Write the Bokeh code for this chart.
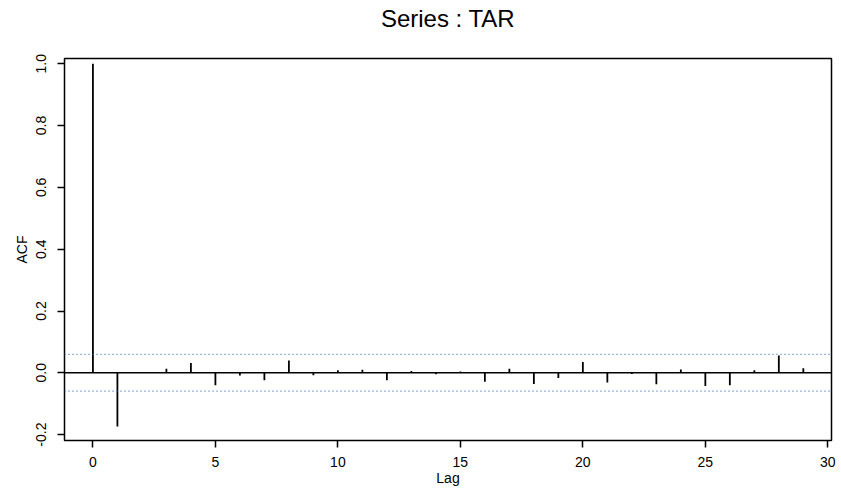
from bokeh.plotting import figure
from bokeh.models import Range1d, FixedTicker, Span, Title
from bokeh.embed import file_html
from bokeh.resources import INLINE

# ---- data ----
lags = list(range(30))
acf = [1.0, -0.174, 0.002, 0.013, 0.032, -0.040, -0.009, -0.024, 0.040, -0.008,
       0.008, 0.010, -0.024, 0.006, -0.005, 0.004, -0.029, 0.013, -0.036, -0.017,
       0.035, -0.031, -0.004, -0.037, 0.011, -0.043, -0.040, 0.008, 0.056, 0.015]
conf_limit = 0.0595
x_ticks = [0, 5, 10, 15, 20, 25, 30]
x_tick_labels = ["0", "5", "10", "15", "20", "25", "30"]
y_ticks = [-0.2, 0.0, 0.2, 0.4, 0.6, 0.8, 1.0]
y_tick_labels = ["-0.2", "0.0", "0.2", "0.4", "0.6", "0.8", "1.0"]
title_text = "Series : TAR"
x_label = "Lag"
y_label = "ACF"

FONT = "Liberation Sans"
X_MIN, X_MAX = -1.16, 30.15
Y_MIN, Y_MAX = -0.219, 1.017

p = figure(width=841, height=494, output_backend="svg", toolbar_location=None,
           x_range=Range1d(X_MIN, X_MAX), y_range=Range1d(Y_MIN, Y_MAX),
           min_border_left=64, min_border_right=10,
           min_border_top=58, min_border_bottom=54)
p.title_location = None

p.background_fill_color = "white"
p.border_fill_color = "white"
p.xgrid.visible = False
p.ygrid.visible = False
p.outline_line_color = "black"
p.outline_line_width = 1.5
p.outline_line_alpha = 1.0

# bars
zeros = [0.0 for _ in lags]
p.segment(x0=lags, y0=zeros, x1=lags, y1=acf, line_color="black", line_width=1.8)

# zero line and confidence bounds
p.add_layout(Span(location=0, dimension="width", line_color="black", line_width=1.5))
for loc in (conf_limit, -conf_limit):
    p.add_layout(Span(location=loc, dimension="width", line_color="#3d6db0",
                      line_width=1.2, line_dash="1 3"))

# axes
xa = p.xaxis[0]
ya = p.yaxis[0]
xa.ticker = FixedTicker(ticks=x_ticks)
ya.ticker = FixedTicker(ticks=y_ticks)
xa.major_label_overrides = {t: l for t, l in zip(x_ticks, x_tick_labels)}
ya.major_label_overrides = {t: l for t, l in zip(y_ticks, y_tick_labels)}
xa.axis_label = x_label
ya.axis_label = y_label
for ax in (xa, ya):
    ax.axis_line_color = None
    ax.major_tick_out = 7
    ax.major_tick_in = 0
    ax.minor_tick_out = 0
    ax.minor_tick_in = 0
    ax.major_tick_line_width = 1.5
    ax.major_tick_line_color = "black"
    ax.major_label_text_font = FONT
    ax.major_label_text_font_size = "14px"
    ax.major_label_text_color = "black"
    ax.axis_label_text_font = FONT
    ax.axis_label_text_font_size = "14px"
    ax.axis_label_text_font_style = "normal"
    ax.axis_label_text_color = "black"
ya.major_label_orientation = "vertical"
ya.major_label_standoff = 11
ya.axis_label_standoff = 4
xa.major_label_standoff = 9
xa.axis_label_standoff = 0

# title: a blank spacer next to the frame, then the title above it
spacer = Title(text=" ", text_font_size="10px", standoff=12)
main_title = Title(text=title_text, align="center", vertical_align="bottom",
                   text_font=FONT, text_font_size="24px", text_font_style="normal",
                   text_color="black", standoff=4)
p.add_layout(spacer, "above")
p.add_layout(main_title, "above")

open("out.html", "w").write(file_html(p, INLINE))
